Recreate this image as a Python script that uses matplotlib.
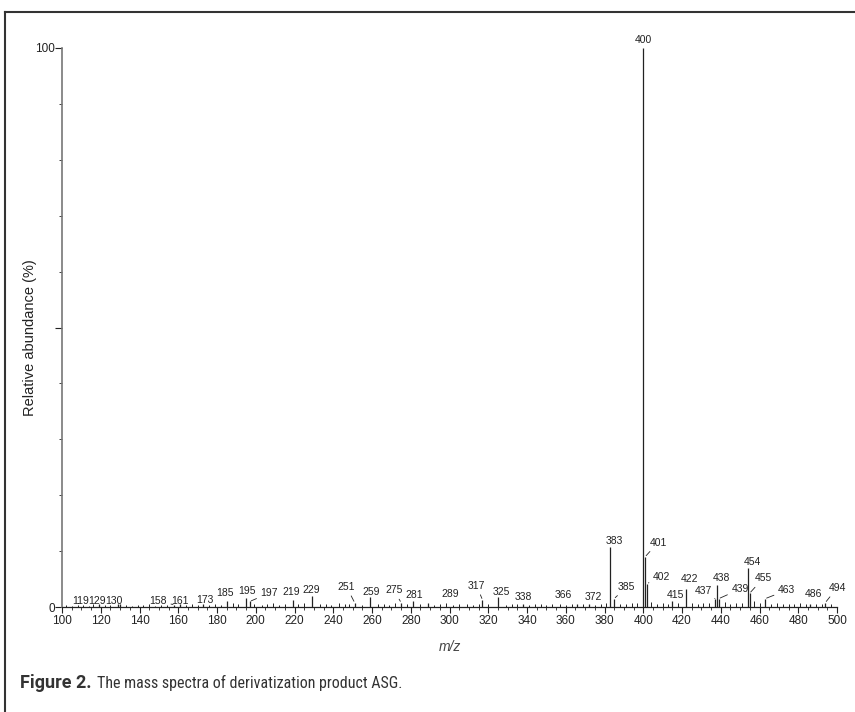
import matplotlib
matplotlib.use('Agg')
import matplotlib.pyplot as plt
from matplotlib.lines import Line2D

plt.rcParams['font.family'] = ['Liberation Sans', 'DejaVu Sans']

# labelled peaks: m/z and relative abundance (%)
peak_mz = [119, 129, 130, 158, 161, 173, 185, 195, 197, 219, 229, 251, 259,
           275, 281, 289, 317, 325, 338, 366, 372, 383, 385, 400, 401, 402,
           415, 422, 437, 438, 439, 454, 455, 463, 486, 494]
peak_int = [0.5, 0.6, 0.5, 0.4, 0.6, 0.5, 1.0, 1.6, 1.0, 1.3, 1.9, 0.8, 1.7,
            0.8, 1.0, 0.8, 1.3, 1.8, 0.5, 0.6, 0.5, 10.7, 1.5, 100.0, 9.0, 4.2,
            1.0, 3.2, 1.5, 4.0, 1.5, 7.0, 2.5, 1.5, 0.5, 0.8]

# unlabelled baseline peaks
noise_mz = [102, 105, 108, 111, 114, 116, 122, 125, 133, 136, 139, 142, 145,
            148, 151, 154, 164, 167, 170, 176, 179, 182, 188, 191, 199, 203,
            206, 209, 212, 215, 222, 225, 233, 236, 239, 243, 246, 248, 255,
            263, 266, 269, 272, 278, 285, 292, 295, 298, 302, 305, 309, 312,
            315, 320, 329, 332, 335, 341, 344, 347, 350, 353, 357, 360, 363,
            369, 375, 378, 381, 388, 391, 394, 397, 404, 407, 410, 413, 418,
            425, 428, 431, 434, 442, 445, 448, 451, 457, 460, 466, 469, 472,
            475, 478, 481, 484, 489, 492, 497]
noise_int = [0.3, 0.2, 0.4, 0.3, 0.2, 0.5, 0.3, 0.4, 0.3, 0.2, 0.4, 0.3, 0.5,
             0.2, 0.3, 0.4, 0.3, 0.5, 0.3, 0.4, 0.6, 0.4, 0.7, 0.5, 0.6, 0.4,
             0.5, 0.7, 0.4, 0.6, 0.5, 0.7, 0.5, 0.6, 0.4, 0.7, 0.5, 0.6, 0.4,
             0.5, 0.6, 0.4, 0.7, 0.5, 0.6, 0.4, 0.5, 0.7, 0.4, 0.6, 0.5, 0.4,
             0.6, 0.5, 0.4, 0.6, 0.5, 0.4, 0.6, 0.5, 0.4, 0.6, 0.5, 0.4, 0.6,
             0.5, 0.4, 0.6, 0.7, 0.6, 0.5, 0.7, 0.8, 0.9, 0.6, 0.7, 0.5, 0.8,
             0.7, 0.6, 0.8, 0.7, 0.9, 0.6, 0.8, 0.7, 1.0, 0.8, 0.6, 0.7, 0.5,
             0.6, 0.5, 0.7, 0.5, 0.6, 0.5, 0.6]

# where each peak label sits, in data units (m/z, %)
label_at = {119: (109.4, 1.0), 129: (118.2, 1.0), 130: (127.0, 1.0),
            158: (149.6, 1.0), 161: (161.0, 1.0), 173: (173.8, 1.3),
            185: (184.0, 2.5), 195: (195.3, 2.85), 197: (207.0, 2.5),
            219: (218.5, 2.7), 229: (228.8, 3.05), 251: (246.9, 3.6),
            259: (259.8, 2.75), 275: (271.3, 3.0), 281: (281.7, 2.15),
            289: (300.3, 2.3), 317: (314.0, 3.8), 325: (327.0, 2.6),
            338: (338.0, 1.8), 366: (358.5, 2.15), 372: (374.0, 1.8),
            383: (385.0, 11.8), 385: (391.5, 3.6), 400: (400.0, 101.4),
            401: (407.6, 11.5), 402: (409.5, 5.4), 415: (416.4, 2.15),
            422: (424.0, 5.0), 437: (431.0, 2.85), 438: (440.5, 5.2),
            439: (450.0, 3.2), 454: (456.5, 8.1), 455: (461.8, 5.1),
            463: (474.0, 3.0), 486: (488.0, 2.3), 494: (500.0, 3.4)}
leaders = {158, 197, 251, 275, 317, 385, 401, 402, 437, 439, 455, 463, 494}

fig = plt.figure(figsize=(8.55, 7.12), dpi=100)
ax = fig.add_axes([62 / 855, 1 - 607 / 712, 775 / 855, 559 / 712])

ink = '#222222'
ax.vlines(noise_mz, 0, noise_int, color=ink, lw=0.7)
ax.vlines(peak_mz, 0, peak_int, color=ink, lw=0.9)

for mz, h in zip(peak_mz, peak_int):
    props = None
    if mz in leaders:
        props = dict(arrowstyle='-', color=ink, lw=0.6, shrinkA=1, shrinkB=1)
    ax.annotate(str(mz), (mz, h), xytext=label_at[mz], textcoords='data',
                ha='center', va='center', fontsize=7.5, color=ink,
                arrowprops=props, annotation_clip=False)

ax.set_xlim(100, 500)
ax.set_ylim(0, 100)
for s in ['top', 'right']:
    ax.spines[s].set_visible(False)
ax.spines['left'].set_color('#777777')
ax.spines['left'].set_linewidth(1.2)
ax.spines['bottom'].set_color(ink)
ax.spines['bottom'].set_linewidth(0.9)

ax.set_xticks(range(100, 501, 20))
ax.set_xticks(range(100, 501, 5), minor=True)
ax.set_yticks([0, 50, 100])
ax.set_yticklabels(['0', '', '100'])
ax.set_yticks(range(0, 101, 10), minor=True)
ax.tick_params(axis='x', which='major', length=4, width=0.8, labelsize=8.5,
               colors=ink, pad=2)
ax.tick_params(axis='x', which='minor', length=2, width=0.6, colors=ink)
ax.tick_params(axis='y', which='major', length=5, width=0.8, labelsize=8.5,
               colors=ink, pad=0)
ax.tick_params(axis='y', which='minor', length=2, width=0.6, colors=ink)

ax.set_xlabel('m/z', fontsize=10, style='italic', color='#444444', labelpad=9)
ax.set_ylabel('Relative abundance (%)', fontsize=10.5, color=ink)
ax.yaxis.set_label_coords((37 - 62) / 775, (607 - 338) / 559)

# page frame along the top and left edges
fig.add_artist(Line2D([5 / 855, 1], [1 - 12 / 712] * 2, color='#333333', lw=1.5))
fig.add_artist(Line2D([5 / 855] * 2, [0, 1 - 12 / 712], color='#333333', lw=1.5))

cap = ['Roboto Condensed', 'DejaVu Sans']
t = fig.text(20 / 855, 1 - 683 / 712, 'Figure 2.', fontsize=13,
             fontweight='bold', family=['Roboto', 'DejaVu Sans'],
             color='#333333', va='center')
fig.canvas.draw()
bb = t.get_window_extent()
fig.text(bb.x1 / 855 + 0.006, 1 - 683 / 712,
         'The mass spectra of derivatization product ASG.', fontsize=11.5,
         family=cap, stretch='condensed', color='#333333', va='center')

fig.savefig('out.png', dpi=100)
